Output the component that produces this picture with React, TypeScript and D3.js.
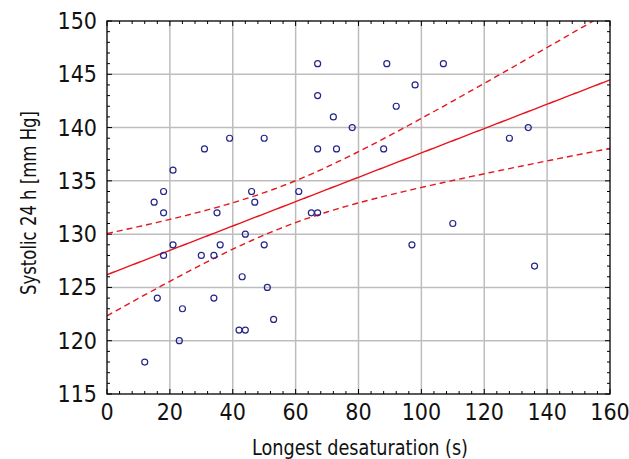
import * as d3 from "d3";

// Longest desaturation (s)
const desatX = [
  12, 15, 16, 18, 18, 18, 21, 21, 23, 24, 31, 30, 34, 34, 35, 36, 39, 43, 42, 44,
  44, 46, 47, 50, 50, 51, 53, 61, 65, 67, 67, 67, 67, 72, 73, 78, 88, 89, 92, 98,
  97, 107, 110, 128, 134, 136,
];
// Systolic 24 h [mm Hg]
const systolicY = [
  118, 133, 124, 134, 132, 128, 136, 129, 120, 123, 138, 128, 128, 124, 132, 129, 139, 126, 121, 130,
  121, 134, 133, 139, 129, 125, 122, 134, 132, 132, 138, 143, 146, 141, 138, 140, 138, 146, 142, 144,
  129, 146, 131, 139, 140, 127,
];
const xTicks = [0, 20, 40, 60, 80, 100, 120, 140, 160];
const yTicks = [115, 120, 125, 130, 135, 140, 145, 150];

const W = 629;
const H = 459;
const M = { left: 107, right: 19, top: 21, bottom: 65 };
const FONT = "'DejaVu Sans Condensed', 'DejaVu Sans', sans-serif";

export default function App() {
  const x = d3.scaleLinear().domain([0, 160]).range([M.left, W - M.right]);
  const y = d3.scaleLinear().domain([115, 150]).range([H - M.bottom, M.top]);

  // least squares fit with 95% confidence band
  const n = desatX.length;
  const mx = d3.mean(desatX) as number;
  const my = d3.mean(systolicY) as number;
  let sxx = 0;
  let sxy = 0;
  desatX.forEach((v, i) => {
    sxx += (v - mx) ** 2;
    sxy += (v - mx) * (systolicY[i] - my);
  });
  const b = sxy / sxx;
  const a = my - b * mx;
  let sse = 0;
  desatX.forEach((v, i) => {
    sse += (systolicY[i] - (a + b * v)) ** 2;
  });
  const s = Math.sqrt(sse / (n - 2));
  const t = 2.015;
  const grid = d3.range(0, 160.5, 1);
  const fit = (v: number) => a + b * v;
  const half = (v: number) => t * s * Math.sqrt(1 / n + (v - mx) ** 2 / sxx);

  const fitLine = d3.line<number>().x((d) => x(d)).y((d) => y(fit(d)))(grid);
  const upper = d3.line<number>().x((d) => x(d)).y((d) => y(fit(d) + half(d)))(grid);
  const lower = d3.line<number>().x((d) => x(d)).y((d) => y(fit(d) - half(d)))(grid);

  const x0 = M.left;
  const x1 = W - M.right;
  const y0 = H - M.bottom;
  const y1 = M.top;

  const xMinor = d3.range(0, 160.1, 4);
  const yMinor = d3.range(115, 150.1, 1);

  return (
    <svg width={W} height={H} style={{ position: "absolute", left: 0, top: 0, background: "#fff" }}>
      <defs>
        <clipPath id="plot">
          <rect x={x0} y={y1} width={x1 - x0} height={y0 - y1} />
        </clipPath>
      </defs>
      {/* grid */}
      {xTicks.slice(1, -1).map((d) => (
        <line key={"gx" + d} x1={x(d)} x2={x(d)} y1={y0} y2={y1} stroke="#bdbdbd" strokeWidth={1.5} />
      ))}
      {yTicks.slice(1, -1).map((d) => (
        <line key={"gy" + d} x1={x0} x2={x1} y1={y(d)} y2={y(d)} stroke="#bdbdbd" strokeWidth={1.5} />
      ))}
      {/* minor + major ticks on all sides */}
      {xMinor.map((d) => {
        const len = d % 20 === 0 ? 5 : 3;
        return (
          <g key={"tx" + d} stroke="#000" strokeWidth={1}>
            <line x1={x(d)} x2={x(d)} y1={y0} y2={y0 - len} />
            <line x1={x(d)} x2={x(d)} y1={y1} y2={y1 + len} />
          </g>
        );
      })}
      {yMinor.map((d) => {
        const len = d % 5 === 0 ? 5 : 3;
        return (
          <g key={"ty" + d} stroke="#000" strokeWidth={1}>
            <line x1={x0} x2={x0 + len} y1={y(d)} y2={y(d)} />
            <line x1={x1} x2={x1 - len} y1={y(d)} y2={y(d)} />
          </g>
        );
      })}
      {/* regression */}
      <g clipPath="url(#plot)" fill="none" stroke="#e8141c" strokeWidth={1.4}>
        <path d={fitLine ?? ""} />
        <path d={upper ?? ""} strokeDasharray="6,4" />
        <path d={lower ?? ""} strokeDasharray="6,4" />
      </g>
      {/* points */}
      {desatX.map((d, i) => (
        <circle key={"p" + i} cx={x(d)} cy={y(systolicY[i])} r={3} fill="none" stroke="#24248a" strokeWidth={1.2} />
      ))}
      {/* frame */}
      <rect x={x0} y={y1} width={x1 - x0} height={y0 - y1} fill="none" stroke="#000" strokeWidth={1.3} />
      {/* tick labels */}
      {xTicks.map((d) => (
        <text key={"lx" + d} x={x(d)} y={y0 + 26} textAnchor="middle" fontFamily={FONT} fontSize={23} fill="#111">
          {d}
        </text>
      ))}
      {yTicks.map((d) => (
        <text key={"ly" + d} x={x0 - 10} y={y(d) + 8} textAnchor="end" fontFamily={FONT} fontSize={23} fill="#111">
          {d}
        </text>
      ))}
      <text
        x={360}
        y={455}
        textAnchor="middle"
        fontFamily={FONT}
        fontSize={22}
        fill="#111"
        textLength={216}
        lengthAdjust="spacingAndGlyphs"
      >
        Longest desaturation (s)
      </text>
      <text
        transform="translate(36,203) rotate(-90)"
        textAnchor="middle"
        fontFamily={FONT}
        fontSize={22}
        fill="#111"
        textLength={184}
        lengthAdjust="spacingAndGlyphs"
      >
        Systolic 24 h [mm Hg]
      </text>
    </svg>
  );
}
